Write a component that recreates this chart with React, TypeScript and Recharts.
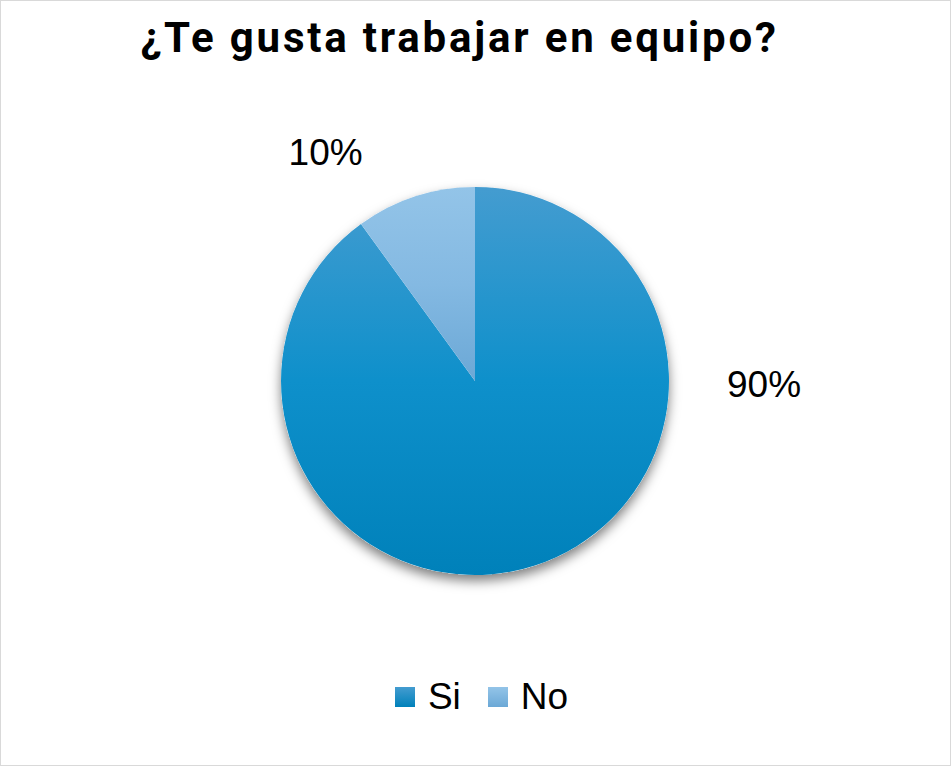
import React from "react";
import { PieChart, Pie, Cell, Legend } from "recharts";

const categories = ["Si", "No"];
const values = [90, 10];
const labels = ["90%", "10%"];
const title = "¿Te gusta trabajar en equipo?";

const gradTop = ["#449cd0", "#93c4e8"];
const gradMid = ["#0e90cb", "#84b9e2"];
const gradBottom = ["#0081ba", "#6ba8d6"];
// label placement factors relative to outer radius
const labelOffsets = [
  { kx: 1.49, ky: 0.02 },
  { kx: -0.77, ky: -1.18 },
];

const data = categories.map((name, i) => ({ name, value: values[i], label: labels[i] }));

const W = 951;
const H = 766;

const renderLabel = (props: any) => {
  const { cx, cy, outerRadius, index } = props;
  const o = labelOffsets[index];
  return (
    <text
      x={cx + outerRadius * o.kx}
      y={cy + outerRadius * o.ky}
      textAnchor="middle"
      dominantBaseline="central"
      fontFamily="Liberation Sans, Arial, sans-serif"
      fontSize={37}
      fill="#000"
    >
      {data[index].label}
    </text>
  );
};

const renderLegend = () => (
  <div style={{ display: "flex", justifyContent: "center", alignItems: "center", fontFamily: "Liberation Sans, Arial, sans-serif", fontSize: 37, color: "#000", paddingLeft: 12 }}>
    {data.map((d, i) => (
      <div key={d.name} style={{ display: "flex", alignItems: "center", marginRight: i === 0 ? 27 : 0 }}>
        <div style={{ width: 20, height: 20, background: `linear-gradient(${gradTop[i]}, ${gradBottom[i]})`, marginRight: 13 }} />
        <span>{d.name}</span>
      </div>
    ))}
  </div>
);

export default function App() {
  return (
    <div style={{ position: "absolute", left: 0, top: 0, width: W, height: H, background: "#fff" }}>
      <div style={{ position: "absolute", left: 0, top: 0, width: W - 2, height: H - 2, border: "1px solid #d9d9d9" }} />
      <div
        style={{
          position: "absolute",
          left: 0,
          top: 13,
          width: W - 32,
          textAlign: "center",
          fontFamily: "Roboto, sans-serif",
          fontWeight: 700,
          fontSize: 42,
          letterSpacing: 2.8,
          color: "#000",
          whiteSpace: "nowrap",
        }}
      >
        {title}
      </div>
      <PieChart width={W} height={H} margin={{ top: 0, right: 0, bottom: 0, left: 0 }} style={{ position: "absolute", left: 0, top: 0 }}>
        <defs>
          {data.map((d, i) => (
            <linearGradient key={d.name} id={`g${i}`} x1="0" y1="0" x2="0" y2="1">
              <stop offset="0%" stopColor={gradTop[i]} />
              <stop offset="50%" stopColor={gradMid[i]} />
              <stop offset="100%" stopColor={gradBottom[i]} />
            </linearGradient>
          ))}
          <filter id="pieShadow" x="-20%" y="-20%" width="140%" height="140%">
            <feDropShadow dx="0" dy="6" stdDeviation="6" floodColor="#000" floodOpacity="0.5" />
          </filter>
        </defs>
        <Pie
          data={[{ name: "bg", value: 1 }]}
          dataKey="value"
          cx={475}
          cy={381}
          outerRadius={194}
          startAngle={90}
          endAngle={-270}
          stroke="none"
          isAnimationActive={false}
          legendType="none"
        >
          <Cell fill="#fff" filter="url(#pieShadow)" />
        </Pie>
        <Pie
          data={data}
          dataKey="value"
          nameKey="name"
          cx={475}
          cy={381}
          outerRadius={194}
          startAngle={90}
          endAngle={-270}
          stroke="none"
          isAnimationActive={false}
          label={renderLabel}
          labelLine={false}
        >
          {data.map((d, i) => (
            <Cell key={d.name} fill={`url(#g${i})`} />
          ))}
        </Pie>
        <Legend content={renderLegend} wrapperStyle={{ top: 676, left: 0, width: W }} />
      </PieChart>
    </div>
  );
}
